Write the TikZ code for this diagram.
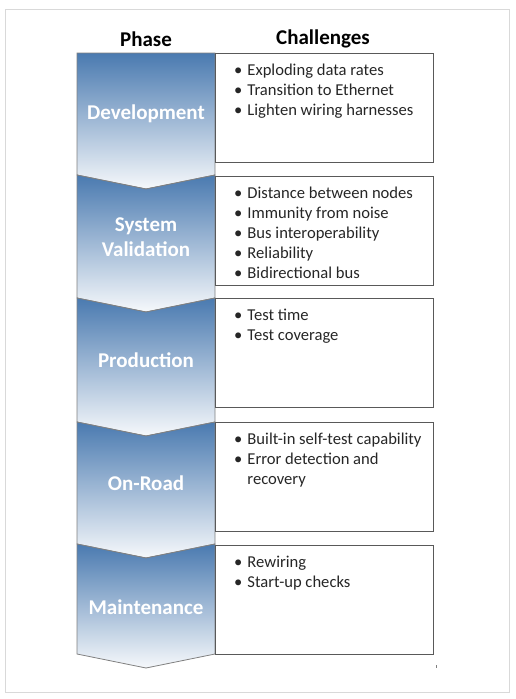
\documentclass[tikz,border=0pt]{standalone}
\usepackage{fontspec}
\setmainfont{Carlito}
\usepackage{xcolor}
\usetikzlibrary{positioning,calc}

\definecolor{phaseblue}{HTML}{4A7AB0}
\definecolor{phasemid}{HTML}{86A5CB}
\definecolor{phaseedge}{HTML}{808080}
\definecolor{boxedge}{HTML}{595959}
\definecolor{frameedge}{HTML}{D9D9D9}

\tikzset{
  phasechevron/.style={draw=phaseedge, line width=0.8pt, top color=phaseblue, middle color=phasemid, bottom color=white!95!phaseblue},
  phaselabel/.style={text=white, font=\fontsize{21}{25}\selectfont\bfseries, align=center},
  challengebox/.style={draw=boxedge, line width=1pt, minimum width=218pt, minimum height=109pt, anchor=north west, inner sep=0pt},
  challengetext/.style={anchor=north west, inner sep=0pt, font=\fontsize{16.6}{20}\selectfont, text=black!85},
  header/.style={font=\fontsize{21}{25}\selectfont\bfseries}
}

\begin{document}
\begin{tikzpicture}[x=1pt,y=-1pt]
    \useasboundingbox (0,0) rectangle (516,699);
    \draw[frameedge, line width=1pt] (5,9) rectangle (509,692);

    % headers
    \node[header] (phasehead) at (146,39) {Phase};
    \node[header] (challhead) at (323,39) {Challenges};

    % phase chevrons
    \draw[phasechevron] (77,53) -- (215,53) -- (215,175) -- (146,189) -- (77,175) -- cycle;
    \draw[phasechevron] (77,175) -- (146,189) -- (215,175) -- (215,298) -- (146,312) -- (77,298) -- cycle;
    \draw[phasechevron] (77,298) -- (146,312) -- (215,298) -- (215,422) -- (146,436) -- (77,422) -- cycle;
    \draw[phasechevron] (77,422) -- (146,436) -- (215,422) -- (215,544) -- (146,558) -- (77,544) -- cycle;
    \draw[phasechevron] (77,544) -- (146,558) -- (215,544) -- (215,654) -- (146,668) -- (77,654) -- cycle;

    \node[phaselabel] (devlabel) at (146,114) {Development};
    \node[phaselabel] (syslabel) at (146,237) {System\\Validation};
    \node[phaselabel] (prodlabel) at (146,360) {Production};
    \node[phaselabel] (roadlabel) at (146,483) {On-Road};
    \node[phaselabel] (maintlabel) at (146,607) {Maintenance};

    % challenge boxes
    \node[challengebox] (devbox) at (215,53) {};
    \node[challengebox] (sysbox) at (215,176) {};
    \node[challengebox] (prodbox) at (215,298) {};
    \node[challengebox] (roadbox) at (215,422) {};
    \node[challengebox] (maintbox) at (215,545) {};

    \node[challengetext] (devtext) at ($(devbox.north west)+(19,8)$) {\begin{tabular}{@{}l@{\hspace{5pt}}l@{}}
        \textbullet & Exploding data rates\\
        \textbullet & Transition to Ethernet\\
        \textbullet & Lighten wiring harnesses
    \end{tabular}};
    \node[challengetext] (systext) at ($(sysbox.north west)+(19,8)$) {\begin{tabular}{@{}l@{\hspace{5pt}}l@{}}
        \textbullet & Distance between nodes\\
        \textbullet & Immunity from noise\\
        \textbullet & Bus interoperability\\
        \textbullet & Reliability\\
        \textbullet & Bidirectional bus
    \end{tabular}};
    \node[challengetext] (prodtext) at ($(prodbox.north west)+(19,8)$) {\begin{tabular}{@{}l@{\hspace{5pt}}l@{}}
        \textbullet & Test time\\
        \textbullet & Test coverage
    \end{tabular}};
    \node[challengetext] (roadtext) at ($(roadbox.north west)+(19,8)$) {\begin{tabular}{@{}l@{\hspace{5pt}}l@{}}
        \textbullet & Built-in self-test capability\\
        \textbullet & Error detection and\\
                    & recovery
    \end{tabular}};
    \node[challengetext] (mainttext) at ($(maintbox.north west)+(19,8)$) {\begin{tabular}{@{}l@{\hspace{5pt}}l@{}}
        \textbullet & Rewiring\\
        \textbullet & Start-up checks
    \end{tabular}};

    \draw[black!50, line width=0.6pt] (436,665) -- (436,668);
\end{tikzpicture}
\end{document}
